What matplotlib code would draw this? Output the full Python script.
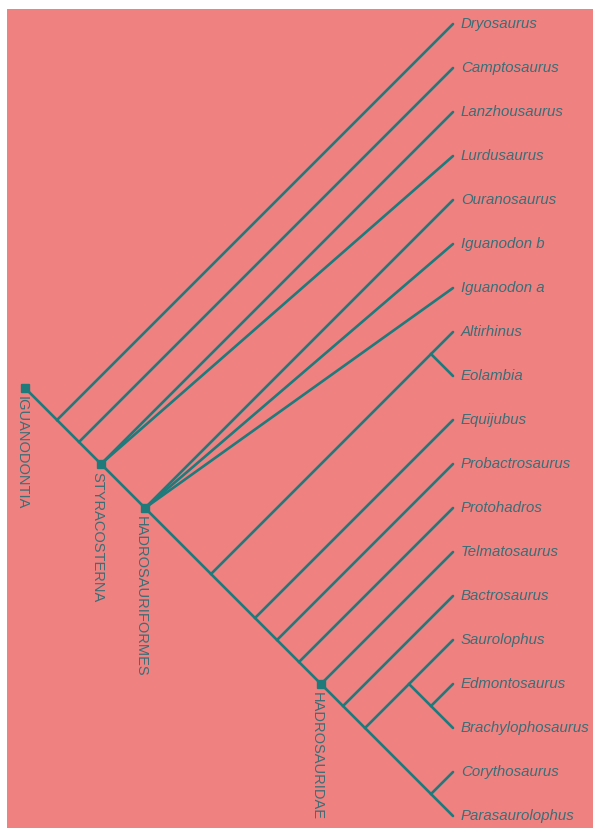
import matplotlib
matplotlib.use("Agg")
import matplotlib.pyplot as plt

# ---- data ----
taxa = ["Dryosaurus", "Camptosaurus", "Lanzhousaurus", "Lurdusaurus", "Ouranosaurus",
        "Iguanodon b", "Iguanodon a", "Altirhinus", "Eolambia", "Equijubus",
        "Probactrosaurus", "Protohadros", "Telmatosaurus", "Bactrosaurus",
        "Saurolophus", "Edmontosaurus", "Brachylophosaurus", "Corythosaurus",
        "Parasaurolophus"]

lambeosaurines = ("Corythosaurus", "Parasaurolophus")
saurolophines = ("Saurolophus", ("Edmontosaurus", "Brachylophosaurus"))
hadrosaurids = ("Telmatosaurus", ("Bactrosaurus", (saurolophines, lambeosaurines)))
derived = (("Altirhinus", "Eolambia"),
           ("Equijubus", ("Probactrosaurus", ("Protohadros", hadrosaurids))))
tree = ("Dryosaurus",
        ("Camptosaurus",
         ("Lanzhousaurus", "Lurdusaurus",
          ("Ouranosaurus", "Iguanodon b", "Iguanodon a", derived))))

# clade name -> taxon that is a direct child of that clade's node (None = root)
clade_labels = {"IGUANODONTIA": None, "STYRACOSTERNA": "Lanzhousaurus",
                "HADROSAURIFORMES": "Ouranosaurus", "HADROSAURIDAE": "Telmatosaurus"}

BG = "#F08181"
LINE = "#1F7A7C"
TEXT = "#3B6E76"

fig = plt.figure(figsize=(5.93, 8.29), dpi=100, facecolor="white")
ax = fig.add_axes([7 / 593, 0, 586 / 593, 819 / 829])
u = 44.0
ax.set_xlim((7 - 453) / u, (593 - 453) / u)
ax.set_ylim((829 - 25) / u, (10 - 25) / u)
ax.axis("off")
ax.add_patch(plt.Rectangle((0, 0), 1, 1, transform=ax.transAxes, color=BG, zorder=0))

idx = {t: i for i, t in enumerate(taxa)}
nodes = {}


def layout(node):
    if isinstance(node, str):
        i = idx[node]
        return 0.0, float(i), i, i
    kids = [layout(c) for c in node]
    lo = min(k[2] for k in kids)
    hi = max(k[3] for k in kids)
    x, y = -(hi - lo) / 2.0, (lo + hi) / 2.0
    for c, k in zip(node, kids):
        ax.plot([x, k[0]], [y, k[1]], color=LINE, lw=1.9, solid_capstyle="round", zorder=2)
        if isinstance(c, str):
            nodes[c] = (x, y)
    return x, y, lo, hi


rx, ry, _, _ = layout(tree)
stem = 0.72
root_dot = (rx - stem, ry - stem)
ax.plot([root_dot[0], rx], [root_dot[1], ry], color=LINE, lw=1.9, zorder=2)

for t in taxa:
    ax.annotate(t, (0, idx[t]), xytext=(8, 1), textcoords="offset pixels",
                ha="left", va="center", fontsize=10.8, style="italic",
                family="Liberation Sans", color=TEXT)

for name, child in clade_labels.items():
    pos = root_dot if child is None else nodes[child]
    ax.plot(*pos, marker="s", ms=5.5, color=LINE, zorder=3)
    ax.annotate(name, pos, xytext=(-4, -7), textcoords="offset pixels",
                ha="center", va="top", rotation=270, fontsize=10.5,
                family="Liberation Sans", color=TEXT)

fig.savefig("out.png", dpi=100, facecolor="white")
